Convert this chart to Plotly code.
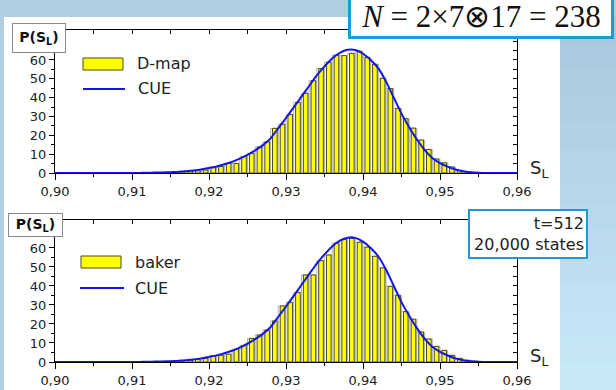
import plotly.graph_objects as go

W, H = 616, 390

# ---------------- data ----------------
bins = [0.913, 0.914, 0.915, 0.916, 0.917, 0.918, 0.919, 0.920, 0.921, 0.922,
        0.923, 0.924, 0.925, 0.926, 0.927, 0.928, 0.929, 0.930, 0.931, 0.932,
        0.933, 0.934, 0.935, 0.936, 0.937, 0.938, 0.939, 0.940, 0.941, 0.942,
        0.943, 0.944, 0.945, 0.946, 0.947, 0.948, 0.949, 0.950, 0.951, 0.952,
        0.953, 0.954]

dmap = [0.1, 0.2, 0.5, 0.6, 1.1, 1.2, 1.6, 2.8, 3.4, 5.1,
        5.1, 8.7, 10.4, 13.8, 16.5, 23.7, 25.9, 31.0, 37.5, 42.3,
        49.0, 55.4, 58.8, 62.5, 62.3, 63.5, 64.6, 61.4, 57.7, 50.3,
        44.8, 34.3, 28.8, 23.8, 17.5, 12.5, 7.4, 5.4, 3.2, 1.4,
        0.6, 0.2]

baker = [0.1, 0.2, 0.4, 0.6, 0.9, 1.3, 1.9, 3.2, 3.6, 4.1,
         6.7, 8.7, 12.4, 14.2, 16.8, 21.6, 29.5, 31.4, 36.6, 45.8,
         45.8, 53.3, 56.3, 62.5, 64.4, 65.0, 63.0, 60.4, 55.6, 49.5,
         39.8, 35.1, 26.5, 22.5, 15.8, 12.1, 8.2, 6.1, 3.5, 1.9,
         0.9, 0.4]

cue_x = [0.900, 0.905, 0.910, 0.911, 0.912, 0.913, 0.914, 0.915, 0.916, 0.917,
         0.918, 0.919, 0.920, 0.921, 0.922, 0.923, 0.924, 0.925, 0.926, 0.927,
         0.928, 0.929, 0.930, 0.931, 0.932, 0.933, 0.934, 0.935, 0.936, 0.937,
         0.938, 0.939, 0.940, 0.941, 0.942, 0.943, 0.944, 0.945, 0.946, 0.947,
         0.948, 0.949, 0.950, 0.951, 0.952, 0.953, 0.954, 0.955, 0.956, 0.957,
         0.960]
cue_y = [0.0, 0.0, 0.0, 0.05, 0.1, 0.2, 0.3, 0.45, 0.6, 0.9,
         1.3, 1.9, 2.7, 3.5, 4.6, 5.9, 7.6, 9.6, 12.0, 14.8,
         18.4, 23.8, 29.2, 34.8, 40.5, 46.2, 51.8, 56.6, 60.8, 63.8,
         65.4, 65.3, 63.3, 60.0, 55.5, 48.5, 40.0, 31.5, 24.3, 17.8,
         12.3, 8.0, 5.3, 3.4, 1.9, 0.9, 0.4, 0.15, 0.05, 0.0,
         0.0]

xtick_vals = [0.90, 0.91, 0.92, 0.93, 0.94, 0.95, 0.96]
xtick_text = ["0,90", "0,91", "0,92", "0,93", "0,94", "0,95", "0,96"]
ytick_vals = [0, 10, 20, 30, 40, 50, 60]
ytick_text = ["0", "10", "20", "30", "40", "50", "60"]

panel_names = ["D-map", "baker"]
series_name_cue = "CUE"
title_text = "<i>N</i> = 2×7⊗17 = 238"
info_text = "t=512<br>20,000 states"

# ---------------- helpers ----------------
def px(x):
    return x / W

def py(y):
    return 1 - y / H

YELLOW = "#ffff00"
BLUE = "#1414f0"
BOXBLUE = "#1e9ad6"

fig = go.Figure()

for i, vals in enumerate([dmap, baker]):
    xa = "x" if i == 0 else "x2"
    ya = "y" if i == 0 else "y2"
    fig.add_trace(go.Bar(x=bins, y=vals, width=0.001, offset=0,
                         marker=dict(color="white", line=dict(color="#b4b4b4", width=1)),
                         xaxis=xa, yaxis=ya, showlegend=False, hoverinfo="skip"))
    fig.add_trace(go.Bar(x=bins, y=vals, width=0.0006, offset=0.00025,
                         marker=dict(color=YELLOW, line=dict(color="#4a4a1c", width=1)),
                         xaxis=xa, yaxis=ya, name=panel_names[i], showlegend=False))
    fig.add_trace(go.Scatter(x=cue_x, y=cue_y, mode="lines", name=series_name_cue,
                             line=dict(color=BLUE, width=2, shape="spline", smoothing=0.6),
                             xaxis=xa, yaxis=ya, cliponaxis=False, showlegend=False))

# invisible helpers so that the frame axes (top / right) get drawn
for xa, ya in [("x3", "y"), ("x4", "y2"), ("x", "y3"), ("x2", "y4")]:
    fig.add_trace(go.Scatter(x=[0.93], y=[1], mode="markers", marker=dict(opacity=0),
                             xaxis=xa, yaxis=ya, showlegend=False, hoverinfo="skip"))

x_dom = [px(55), px(517)]
doms = [[py(173), py(30)], [py(362), py(220)]]
yranges = [[0, 75.9], [0, 74.7]]

tickfont = dict(family="DejaVu Sans", size=13, color="#222")

def xaxis_main(dom_anchor):
    return dict(range=[0.9, 0.96], domain=x_dom, anchor=dom_anchor,
                tickmode="array", tickvals=xtick_vals, ticktext=xtick_text,
                ticks="outside", ticklen=6, tickwidth=1, tickcolor="black",
                minor=dict(tickmode="array", tickvals=[0.905, 0.915, 0.925, 0.935, 0.945, 0.955],
                           ticks="outside", ticklen=3, tickcolor="black"),
                showline=True, mirror=True, linecolor="black", linewidth=1,
                showgrid=False, zeroline=False, tickfont=tickfont, automargin=False,
                layer="below traces", fixedrange=True)

def yaxis_main(dom, rng, anchor):
    return dict(range=rng, domain=dom, anchor=anchor,
                tickmode="array", tickvals=ytick_vals, ticktext=ytick_text,
                ticks="outside", ticklen=5, tickwidth=1, tickcolor="black",
                minor=dict(tickmode="array", tickvals=[5, 15, 25, 35, 45, 55],
                           ticks="outside", ticklen=3, tickcolor="black"),
                showline=True, mirror=True, linecolor="black", linewidth=1,
                showgrid=False, zeroline=False, tickfont=tickfont, automargin=False,
                layer="below traces", fixedrange=True)

top_ticks = [0.905, 0.91, 0.915, 0.92, 0.925, 0.93, 0.935, 0.94, 0.945, 0.95, 0.955]
right_ticks = [5, 10, 15, 20, 25, 30, 35, 40, 45, 50, 55, 60, 65, 70]

def xaxis_top(over, anchor):
    return dict(range=[0.9, 0.96], overlaying=over, anchor=anchor, side="top",
                tickmode="array", tickvals=top_ticks, ticks="inside", ticklen=4,
                tickcolor="black", showticklabels=False, showline=True,
                linecolor="black", linewidth=1, showgrid=False, zeroline=False,
                automargin=False, fixedrange=True)

def yaxis_right(over, rng, anchor):
    return dict(range=rng, overlaying=over, anchor=anchor, side="right",
                tickmode="array", tickvals=right_ticks, ticks="inside", ticklen=4,
                tickcolor="black", showticklabels=False, showline=True,
                linecolor="black", linewidth=1, showgrid=False, zeroline=False,
                automargin=False, fixedrange=True)

fig.update_layout(
    width=W, height=H,
    margin=dict(l=0, r=0, t=0, b=0, pad=0, autoexpand=False),
    paper_bgcolor="#b1cee1",
    plot_bgcolor="white",
    barmode="overlay",
    bargap=0,
    showlegend=False,
    xaxis=xaxis_main("y"),
    xaxis2=xaxis_main("y2"),
    yaxis=yaxis_main(doms[0], yranges[0], "x"),
    yaxis2=yaxis_main(doms[1], yranges[1], "x2"),
    xaxis3=xaxis_top("x", "y"),
    xaxis4=xaxis_top("x2", "y2"),
    yaxis3=yaxis_right("y", yranges[0], "x"),
    yaxis4=yaxis_right("y2", yranges[1], "x2"),
)

shapes = []
# white sheet
shapes.append(dict(type="rect", xref="paper", yref="paper", x0=px(4), x1=px(560),
                   y0=0, y1=py(17), fillcolor="white", line=dict(width=0), layer="below"))
# right gradient strip
nb = 14
c0 = (168, 200, 221)
c1 = (198, 232, 247)
for k in range(nb):
    t = k / (nb - 1)
    col = "rgb(%d,%d,%d)" % tuple(round(a + (b - a) * t) for a, b in zip(c0, c1))
    y0 = 17 + (H - 17) * k / nb
    y1 = 17 + (H - 17) * (k + 1) / nb
    shapes.append(dict(type="rect", xref="paper", yref="paper", x0=px(560), x1=1,
                       y0=py(y1) - 0.002, y1=py(y0), fillcolor=col, line=dict(width=0), layer="below"))

# legend swatches
leg = [dict(rect=(83, 123, 58, 70), line=(83, 125, 89), t1=(135, 64), t2=(136, 89)),
       dict(rect=(81, 121, 256, 268), line=(80, 124, 288), t1=(133, 262), t2=(133, 288))]
annotations = []
for i, L in enumerate(leg):
    x0, x1, y0, y1 = L["rect"]
    shapes.append(dict(type="rect", xref="paper", yref="paper", x0=px(x0), x1=px(x1),
                       y0=py(y1), y1=py(y0), fillcolor=YELLOW, line=dict(color="#4a4a1c", width=1)))
    lx0, lx1, ly = L["line"]
    shapes.append(dict(type="line", xref="paper", yref="paper", x0=px(lx0), x1=px(lx1),
                       y0=py(ly), y1=py(ly), line=dict(color=BLUE, width=2)))
    annotations.append(dict(text=panel_names[i], xref="paper", yref="paper",
                            x=px(L["t1"][0]), y=py(L["t1"][1]), xanchor="left", yanchor="middle",
                            showarrow=False, font=dict(family="DejaVu Sans", size=16, color="#222")))
    annotations.append(dict(text=series_name_cue, xref="paper", yref="paper",
                            x=px(L["t2"][0]), y=py(L["t2"][1]), xanchor="left", yanchor="middle",
                            showarrow=False, font=dict(family="DejaVu Sans", size=16, color="#222")))

# P(S_L) boxes
for (cx, cy, w, h) in [(39, 38, 48, 24), (35.5, 225, 49, 18)]:
    annotations.append(dict(text="<b>P(S<sub>L</sub>)</b>", xref="paper", yref="paper",
                            x=px(cx), y=py(cy), xanchor="center", yanchor="middle",
                            width=w, height=h, showarrow=False, bgcolor="white",
                            bordercolor="#8a8a8a", borderwidth=1, borderpad=2,
                            font=dict(family="DejaVu Sans", size=14, color="#111")))

# S_L axis labels
for cy in [169, 357]:
    annotations.append(dict(text="S<sub>L</sub>", xref="paper", yref="paper",
                            x=px(528), y=py(cy), xanchor="left", yanchor="middle",
                            showarrow=False, font=dict(family="DejaVu Sans", size=18, color="#222")))

# title box
annotations.append(dict(text=title_text, xref="paper", yref="paper",
                        x=px(481.5), y=py(16), xanchor="center", yanchor="middle",
                        width=260, height=40, showarrow=False, bgcolor="white",
                        bordercolor=BOXBLUE, borderwidth=3, borderpad=0,
                        font=dict(family="Liberation Serif", size=31, color="#111")))

# info box
annotations.append(dict(text=info_text, xref="paper", yref="paper",
                        x=px(528), y=py(234), xanchor="center", yanchor="middle",
                        width=112, height=42, align="right", showarrow=False, bgcolor="white",
                        bordercolor=BOXBLUE, borderwidth=2, borderpad=2,
                        font=dict(family="DejaVu Sans", size=16, color="#222")))

fig.update_layout(shapes=shapes, annotations=annotations)

fig.write_html("out.html",
               config={"displayModeBar": False, "staticPlot": True},
               post_script="document.body.style.margin='0';document.body.style.overflow='hidden';")
